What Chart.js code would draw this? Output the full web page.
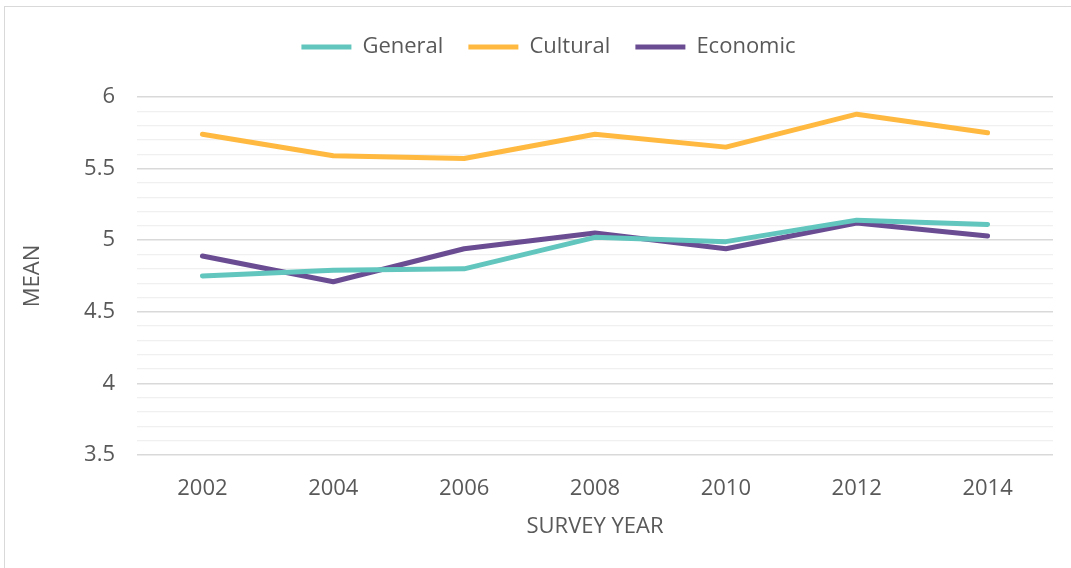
<!DOCTYPE html>
<html>
<head>
<meta charset="utf-8">
<script src="https://cdn.jsdelivr.net/npm/chart.js@4/dist/chart.umd.min.js"></script>
<style>
  html, body { margin: 0; padding: 0; background: #fff; overflow: hidden; }
  #marco { position: absolute; left: 4px; top: 6px; width: 1200px; height: 700px; border: 1px solid #d9d9d9; }
  #grafico { position: absolute; left: 0; top: 0; }
</style>
</head>
<body>
<div id="marco"></div>
<canvas id="grafico" width="1071" height="568"></canvas>
<script>
// DATOS:
const anios = ["2002", "2004", "2006", "2008", "2010", "2012", "2014"];
const general = [4.75, 4.79, 4.80, 5.02, 4.99, 5.14, 5.11];
const cultural = [5.74, 5.59, 5.57, 5.74, 5.65, 5.88, 5.75];
const economico = [4.89, 4.71, 4.94, 5.05, 4.94, 5.12, 5.03];
const etiquetasY = [3.5, 4, 4.5, 5, 5.5, 6];

const gris = "#595959";
const fuente = { family: "'Open Sans', sans-serif", size: 22 };

function serie(nombre, datos, color) {
    return {
        label: nombre,
        data: datos,
        borderColor: color,
        backgroundColor: color,
        borderWidth: 5,
        pointRadius: 0,
        tension: 0,
        borderCapStyle: "round",
        borderJoinStyle: "round"
    };
}

function esMayor(valor) {
    const v = Math.round(valor * 10) / 10;
    return etiquetasY.includes(v);
}

// Ajuste de la leyenda: alto fijo y un poco desplazada a la derecha
const ajusteLeyenda = {
    id: "ajusteLeyenda",
    beforeInit: function(chart) {
        const leyenda = chart.legend;
        const fitOriginal = leyenda.fit;
        leyenda.fit = function() {
            fitOriginal.call(this);
            this.height = 86;
        };
        const drawOriginal = leyenda.draw;
        leyenda.draw = function() {
            const c = this.ctx;
            c.save();
            c.translate(22, 0);
            drawOriginal.call(this);
            c.restore();
        };
    }
};

const ctx = document.getElementById("grafico").getContext("2d");

new Chart(ctx, {
    type: "line",
    data: {
        labels: anios,
        datasets: [
            serie("General", general, "#62c6be"),
            serie("Cultural", cultural, "#ffb940"),
            serie("Economic", economico, "#6a4c93")
        ]
    },
    plugins: [ajusteLeyenda],
    options: {
        responsive: false,
        animation: false,
        layout: { padding: { top: 11, right: 18, left: 0, bottom: 0 } },
        plugins: {
            legend: {
                position: "top",
                labels: {
                    color: gris,
                    font: fuente,
                    boxWidth: 50,
                    boxHeight: 5,
                    padding: 25,
                    generateLabels: function(chart) {
                        const base = Chart.defaults.plugins.legend.labels.generateLabels(chart);
                        return base.map(function(item) {
                            item.lineWidth = 0;
                            item.fillStyle = item.strokeStyle;
                            return item;
                        });
                    }
                }
            },
            tooltip: { enabled: false }
        },
        scales: {
            x: {
                offset: true,
                grid: { display: false },
                border: { display: false },
                ticks: { color: gris, font: fuente, padding: 13, maxRotation: 0 },
                title: { display: true, text: "SURVEY YEAR", color: gris, font: fuente, padding: { top: 0, bottom: 28 } },
                afterFit: function(escala) { escala.height = 113; }
            },
            y: {
                min: 3.5,
                max: 6,
                border: { display: false },
                ticks: {
                    stepSize: 0.1,
                    autoSkip: false,
                    color: gris,
                    font: fuente,
                    padding: 22,
                    callback: function(valor) {
                        return esMayor(valor) ? String(Math.round(valor * 10) / 10) : "";
                    }
                },
                grid: {
                    drawTicks: false,
                    color: function(c) { return esMayor(c.tick.value) ? "#d9d9d9" : "#f0f0f0"; },
                    lineWidth: function(c) { return esMayor(c.tick.value) ? 1.5 : 1.3; }
                },
                title: { display: true, text: "MEAN", color: gris, font: fuente, padding: { top: 20, bottom: 0 } },
                afterFit: function(escala) { escala.width = 137; }
            }
        }
    }
});
</script>
</body>
</html>
